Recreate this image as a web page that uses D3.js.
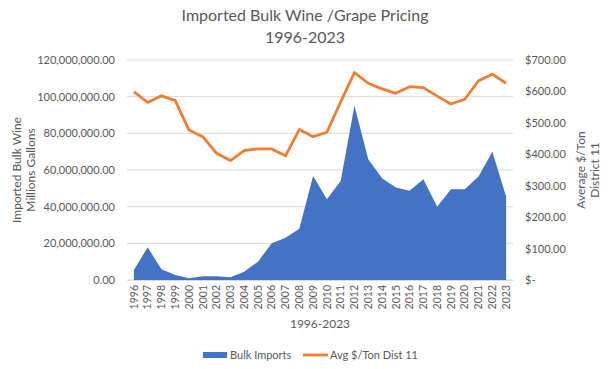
<!DOCTYPE html>
<html><head><meta charset="utf-8">
<script src="https://cdn.jsdelivr.net/npm/d3@7"></script>
<style>body{margin:0;background:#fff}svg{display:block;font-family:Lato,"Open Sans",sans-serif}</style>
</head><body><svg id="c" width="611" height="369"></svg>
<script>
const years = d3.range(1996, 2024).map(String);
const bulkImports = [5.5,17.8,5.8,2.7,0.9,2,2,1.5,4.5,10,20,23,28,56.7,44,54,95,65.8,55.5,50.4,48.7,55,40,49.5,49.5,56.4,70,45.5].map(v=>v*1e6);
const avgPrice = [599,565,586,571,477,456,403,380,412,417,417,395,479,456,470,567,660,626,608,594,615,612,585,560,575,634,655,626];
const leftTicks = [0,20e6,40e6,60e6,80e6,100e6,120e6];
const rightTicks = [0,100,200,300,400,500,600,700];

const svg = d3.select("#c");
const L=127,R=513,T=60,B=280;
const grey="#595959";
const x = d3.scaleBand().domain(years).range([L,R]);
const cx = d=>x(d)+x.bandwidth()/2;
const yL = d3.scaleLinear().domain([0,120e6]).range([B,T]);
const yR = d3.scaleLinear().domain([0,700]).range([B,T]);

// grid
svg.append("g").selectAll("line").data(leftTicks).join("line")
 .attr("x1",L).attr("x2",R).attr("y1",d=>yL(d)).attr("y2",d=>yL(d))
 .attr("stroke","#d9d9d9").attr("stroke-width",1);

// area
svg.append("path").datum(years.map((y,i)=>[y,bulkImports[i]]))
 .attr("fill","#4472C4")
 .attr("d",d3.area().x(d=>cx(d[0])).y0(B).y1(d=>yL(d[1])));

// line
svg.append("path").datum(years.map((y,i)=>[y,avgPrice[i]]))
 .attr("fill","none").attr("stroke","#ED7D31").attr("stroke-width",2.8).attr("stroke-linejoin","round")
 .attr("d",d3.line().x(d=>cx(d[0])).y(d=>yR(d[1])));

// left axis
const fmtL = v=>d3.format(",.2f")(v);
const gl = svg.append("g").attr("transform",`translate(${L-12},0)`)
 .call(d3.axisLeft(yL).tickValues(leftTicks).tickFormat(fmtL).tickSize(0).tickPadding(0));
gl.select(".domain").remove();
gl.selectAll("text").attr("fill",grey).style("font-size","11px").style("font-family","Lato");

// right axis
const fmtR = v=> v===0 ? "$-" : "$"+d3.format(",.2f")(v);
const gr = svg.append("g").attr("transform",`translate(${R+12},0)`)
 .call(d3.axisRight(yR).tickValues(rightTicks).tickFormat(fmtR).tickSize(0).tickPadding(0));
gr.select(".domain").remove();
gr.selectAll("text").attr("fill",grey).style("font-size","11px").style("font-family","Lato");

// x axis
const gx = svg.append("g").attr("transform",`translate(0,${B})`)
 .call(d3.axisBottom(x).tickSize(0).tickPadding(0));
gx.select(".domain").attr("stroke","#d9d9d9");
gx.selectAll("text").attr("fill",grey).style("font-size","10.5px").style("font-family","Lato")
 .attr("transform","rotate(-90)").attr("text-anchor","end").attr("dy","0.35em").attr("x",-5).attr("y",0);

// titles
const title = svg.append("text").attr("x",305).attr("text-anchor","middle").attr("fill",grey).style("font-size","16px");
title.append("tspan").attr("x",305).attr("y",21).text("Imported Bulk Wine /Grape Pricing");
title.append("tspan").attr("x",305).attr("y",43).text("1996-2023");

svg.append("text").attr("x",320).attr("y",328).attr("text-anchor","middle").attr("fill",grey).style("font-size","12px").text("1996-2023");

const lt = svg.append("text").attr("transform","translate(0,170) rotate(-90)").attr("text-anchor","middle").attr("fill",grey).style("font-size","12px");
lt.append("tspan").attr("x",0).attr("y",21).text("Imported Bulk Wine");
lt.append("tspan").attr("x",0).attr("y",35).text("Millions Gallons");

const rt = svg.append("text").attr("transform","translate(0,170) rotate(-90)").attr("text-anchor","middle").attr("fill",grey).style("font-size","12px");
rt.append("tspan").attr("x",0).attr("y",585).text("Average $/Ton");
rt.append("tspan").attr("x",0).attr("y",599).text("District 11");

// legend
const leg = svg.append("g");
leg.append("rect").attr("x",203).attr("y",352).attr("width",24).attr("height",6).attr("fill","#4472C4");
leg.append("text").attr("x",230).attr("y",359).attr("fill",grey).style("font-size","11px").text("Bulk Imports");
leg.append("line").attr("x1",303).attr("x2",328).attr("y1",355).attr("y2",355).attr("stroke","#ED7D31").attr("stroke-width",2.8);
leg.append("text").attr("x",330).attr("y",359).attr("fill",grey).style("font-size","11px").text("Avg $/Ton Dist 11");
</script></body></html>
